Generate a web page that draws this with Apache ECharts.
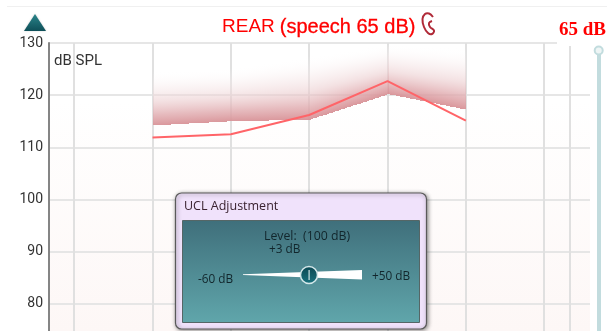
<!DOCTYPE html>
<html><head><meta charset="utf-8">
<style>html,body{margin:0;padding:0;background:#fff;overflow:hidden;width:607px;height:331px}#c{width:607px;height:356px}</style>
<script src="https://cdn.jsdelivr.net/npm/echarts@6/dist/echarts.min.js"></script></head>
<body><div id="c"></div>
<script>
const gridFrequencies = [125, 250, 500, 1000, 2000, 4000, 8000, 10000];
const measuredFrequencies = [250, 500, 1000, 2000, 4000];
const rearValues = [111.9, 112.5, 116.2, 122.7, 115.1];
const targetLower = [114.2, 115.0, 115.3, 120.2, 117.2];
const targetUpper = [124.6, 125.2, 127.5, 129.8, 129.0];
const yTicks = [70, 80, 90, 100, 110, 120, 130];

const oct = f => Math.log2(f / 125);
const rearData = measuredFrequencies.map((f, i) => [oct(f), rearValues[i]]);
const bandData = measuredFrequencies.map((f, i) => [oct(f), targetLower[i], targetUpper[i]]);

const font = 'Roboto, "Open Sans", sans-serif';
const stops = [
  {offset: 0, color: 'rgba(216,146,151,0.95)'},
  {offset: 0.2, color: 'rgba(224,170,174,0.8)'},
  {offset: 0.45, color: 'rgba(236,206,208,0.6)'},
  {offset: 0.7, color: 'rgba(245,230,231,0.4)'},
  {offset: 1, color: 'rgba(255,255,255,0)'}
];
function renderBand(params, api) {
  const i = params.dataIndex;
  if (i >= bandData.length - 1) return {type: 'group', children: []};
  const a = bandData[i], b = bandData[i + 1];
  const x0 = Math.round(api.coord([a[0], 0])[0]), x1 = Math.round(api.coord([b[0], 0])[0]);
  const lo0 = api.coord([a[0], a[1]])[1], lo1 = api.coord([b[0], b[1]])[1];
  const up0 = api.coord([a[0], a[2]])[1], up1 = api.coord([b[0], b[2]])[1];
  const children = [];
  for (let x = x0; x < x1; x += 2) {
    const t = (x - x0) / (x1 - x0);
    const lo = lo0 + (lo1 - lo0) * t, up = up0 + (up1 - up0) * t;
    const top = Math.floor(up), bottom = Math.round(lo);
    children.push({type: 'rect', shape: {x: x, y: top, width: 2, height: bottom - top},
      style: {fill: {type: 'linear', global: true, x: 0, y: lo, x2: 0, y2: up, colorStops: stops}}});
  }
  return {type: 'group', children};
}

const txt = (x, y, text, size, color, extra) => ({type: 'text', z: 110, x, y,
  style: Object.assign({text, font: size + 'px ' + font, fill: color, textVerticalAlign: 'middle'}, extra || {})});

const chart = echarts.init(document.getElementById('c'), null, {renderer: 'canvas'});
chart.setOption({
  animation: false,
  backgroundColor: '#fff',
  title: {
    left: 222, top: 17, padding: 0,
    text: '{a|REAR} {b|(speech 65 dB)}',
    textStyle: {rich: {
      a: {fontFamily: 'Liberation Sans', fontSize: 19, fontWeight: 'normal', color: '#ff0000'},
      b: {fontFamily: 'Liberation Sans', fontSize: 20, fontWeight: 'normal', color: '#ff0000', textBorderColor: '#ff0000', textBorderWidth: 0.3}
    }}
  },
  grid: {left: 49, right: 17, top: 43, bottom: 0},
  xAxis: {
    type: 'value', min: oct(100), max: oct(12000),
    axisLine: {show: false},
    axisTick: {show: false, customValues: gridFrequencies.map(oct)},
    axisLabel: {show: false, customValues: gridFrequencies.map(oct)},
    splitLine: {show: true, lineStyle: {color: '#e0e0e0', width: 2}}
  },
  yAxis: {
    type: 'value', min: 70, max: 130, interval: 10,
    axisLine: {show: true, onZero: false, lineStyle: {color: '#858585', width: 2}},
    axisTick: {show: false},
    axisLabel: {margin: 6, fontFamily: font, fontSize: 14, color: '#333',
      formatter: v => yTicks.includes(v) && v >= 80 ? String(v) : ''},
    splitLine: {show: true, lineStyle: {color: '#e6e6e6', width: 2}}
  },
  series: [
    {type: 'custom', data: bandData, renderItem: renderBand, encode: {x: 0, y: [1, 2]}, z: 2, silent: true, clip: false},
    {type: 'line', data: rearData, symbol: 'none', z: 3, lineStyle: {color: '#ff6468', width: 2}}
  ],
  graphic: {elements: [
    {type: 'rect', z: -10, shape: {x: 49, y: 43, width: 541, height: 288},
      style: {fill: {type: 'linear', x: 0, y: 0, x2: 0, y2: 1, colorStops: [
        {offset: 0, color: '#ffffff'}, {offset: 0.2, color: '#ffffff'}, {offset: 1, color: '#fdf7f6'}]}}},
    {type: 'rect', z: 90, shape: {x: 7, y: 6, width: 600, height: 1}, style: {fill: '#f0f0f0'}},
    {type: 'rect', z: 90, shape: {x: 557, y: 20, width: 50, height: 26}, style: {fill: '#fff'}},
    {type: 'rect', z: 91, shape: {x: 591, y: 46, width: 16, height: 285}, style: {fill: '#fff'}},
    {type: 'polygon', z: 100, shape: {points: [[35, 14], [46, 31], [24, 31]]},
      style: {fill: {type: 'linear', x: 0, y: 0, x2: 0, y2: 1, colorStops: [
        {offset: 0, color: '#2a858b'}, {offset: 1, color: '#0e4f58'}]}, shadowColor: 'rgba(0,0,0,0.2)', shadowBlur: 2}},
    {type: 'polyline', z: 100, shape: {smooth: 0.4, points: [[433, 17], [429, 13.5], [425, 14], [422.5, 19], [424, 27], [428, 33], [432, 34], [434, 30.5], [430, 27], [429, 23], [432, 21]]},
      style: {fill: 'none', stroke: '#b02a38', lineWidth: 2}},
    {type: 'text', z: 100, x: 559, y: 30, style: {text: '65 dB', font: 'bold 19px "Liberation Serif"', fill: '#ff0000', textVerticalAlign: 'middle'}},
    txt(54, 61, 'dB SPL', 15, '#333'),
    {type: 'rect', z: 100, shape: {x: 597, y: 50, width: 4, height: 281}, style: {fill: '#c2dcde'}},
    {type: 'circle', z: 101, shape: {cx: 598.7, cy: 50.5, r: 4}, style: {fill: '#eef5f5', stroke: '#c2dcde', lineWidth: 2}},
    {type: 'rect', z: 105, shape: {x: 175.5, y: 193, width: 251, height: 136, r: 6},
      style: {fill: '#f0e2fb', stroke: '#5a5a5a', lineWidth: 1.2, shadowColor: 'rgba(0,0,0,0.45)', shadowBlur: 4, shadowOffsetX: 1, shadowOffsetY: 1}},
    {type: 'rect', z: 106, shape: {x: 182.5, y: 220.5, width: 237, height: 102},
      style: {stroke: '#566', lineWidth: 1, fill: {type: 'linear', x: 0, y: 0, x2: 0, y2: 1, colorStops: [
        {offset: 0, color: '#3f6f7b'}, {offset: 1, color: '#60a6ab'}]}}},
    txt(184, 206, 'UCL Adjustment', 12.5, '#3a2230', {font: '12.5px "Open Sans"'}),
    txt(264, 236, 'Level:  (100 dB)', 12, '#12262c', {font: '12.3px "Open Sans"'}),
    txt(269, 250, '+3 dB', 12, '#12262c', {font: '11.8px "Open Sans"'}),
    txt(198, 280, '-60 dB', 12, '#12262c', {font: '11.8px "Open Sans"'}),
    txt(372, 277, '+50 dB', 12, '#12262c', {font: '11.8px "Open Sans"'}),
    {type: 'polygon', z: 110, shape: {points: [[243, 274.3], [362, 270], [362, 279.5], [243, 275]]}, style: {fill: '#fff'}},
    {type: 'circle', z: 111, shape: {cx: 309, cy: 275, r: 8.5},
      style: {stroke: '#d5e8ea', lineWidth: 1.5, fill: {type: 'linear', x: 0, y: 0, x2: 0, y2: 1, colorStops: [
        {offset: 0, color: '#0a4650'}, {offset: 1, color: '#1a7480'}]}}},
    {type: 'rect', z: 112, shape: {x: 308.5, y: 270, width: 1.2, height: 10}, style: {fill: '#cfe4e6'}}
  ]}
});
</script></body></html>
